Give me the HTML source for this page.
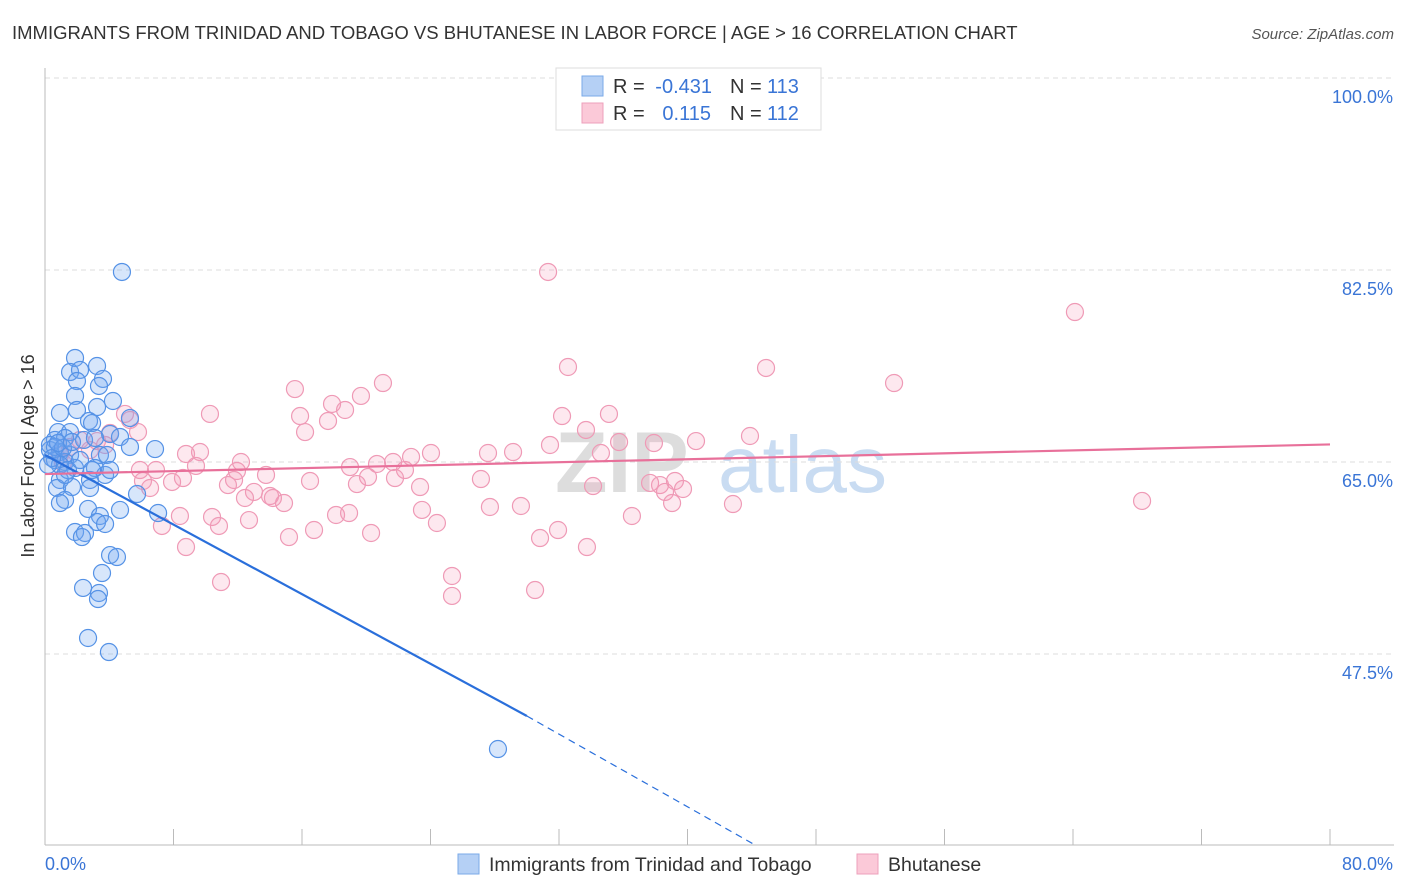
<!DOCTYPE html>
<html><head><meta charset="utf-8"><style>
body{margin:0;background:#fff;font-family:"Liberation Sans",sans-serif}
svg{display:block}
</style></head><body>
<svg id="chart" width="1406" height="892" xmlns="http://www.w3.org/2000/svg">
<text x="12" y="39" font-size="18.5" fill="#333">IMMIGRANTS FROM TRINIDAD AND TOBAGO VS BHUTANESE IN LABOR FORCE | AGE &gt; 16 CORRELATION CHART</text>
<text x="1394" y="39" font-size="15" fill="#555" font-style="italic" text-anchor="end">Source: ZipAtlas.com</text>
<text x="555" y="492" font-size="86" fill="#ddd" font-weight="bold">ZIP</text>
<text x="718" y="492" font-size="80" fill="#c9dcf2">atlas</text>
<g id="grid"></g><g id="axes"></g><g id="pink"></g><g id="blue"></g><g id="lines"></g>
<text transform="translate(34,456) rotate(-90)" font-size="18" fill="#333" text-anchor="middle">In Labor Force | Age &gt; 16</text>
<text x="45" y="870" font-size="18" fill="#3a75d6">0.0%</text>
<text x="1393" y="870" font-size="18" fill="#3a75d6" text-anchor="end">80.0%</text>
<g>
<rect x="556" y="68" width="265" height="62" fill="#fff" stroke="#ddd"/>
<rect x="582" y="76" width="21" height="20" fill="#b5d0f5" stroke="#7aaae8"/>
<rect x="582" y="103" width="21" height="20" fill="#fbc9d8" stroke="#eea0bb"/>
<text x="613" y="93" font-size="20" fill="#333">R =</text>
<text x="712" y="93" font-size="20" fill="#3a75d6" text-anchor="end">-0.431</text>
<text x="730" y="93" font-size="20" fill="#333">N =</text>
<text x="767" y="93" font-size="20" fill="#3a75d6">113</text>
<text x="613" y="120" font-size="20" fill="#333">R =</text>
<text x="711" y="120" font-size="20" fill="#3a75d6" text-anchor="end">0.115</text>
<text x="730" y="120" font-size="20" fill="#333">N =</text>
<text x="767" y="120" font-size="20" fill="#3a75d6">112</text>
</g>
<g>
<rect x="458" y="854" width="21" height="20" fill="#b5d0f5" stroke="#7aaae8"/>
<text x="489" y="871" font-size="19.5" fill="#333">Immigrants from Trinidad and Tobago</text>
<rect x="857" y="854" width="21" height="20" fill="#fbc9d8" stroke="#eea0bb"/>
<text x="888" y="871" font-size="19.5" fill="#333">Bhutanese</text>
</g>
</svg>
<script>
const yTicks=[100,82.5,65,47.5];
const xTicks=[0,8,16,24,32,40,48,56,64,72,80];
const bluePx=[[122,272],[75,358],[97,366],[70,372],[80,370],[77,381],[103,379],[99,386],[75,396],[113,401],[97,407],[60,413],[77,410],[130,418],[89,421],[92,423],[58,432],[70,432],[110,434],[55,440],[65,438],[84,440],[95,438],[120,437],[130,447],[155,449],[50,450],[60,452],[70,455],[100,455],[107,455],[55,460],[65,462],[75,468],[95,468],[105,475],[90,480],[60,480],[57,488],[72,487],[90,488],[137,494],[65,500],[60,503],[88,509],[120,510],[158,513],[100,516],[97,522],[105,524],[75,532],[85,533],[82,537],[110,555],[117,557],[102,573],[83,588],[99,593],[98,599],[88,638],[109,652],[498,749],[50,445],[55,447],[60,465],[68,470],[52,458],[48,465],[63,448],[58,443],[72,442],[80,460],[92,470],[110,470],[65,475]];
const pinkPx=[[548,272],[1075,312],[568,367],[766,368],[894,383],[383,383],[295,389],[361,396],[210,414],[125,414],[332,404],[345,410],[300,416],[328,421],[562,416],[609,414],[130,420],[586,430],[138,432],[305,432],[750,436],[696,441],[654,443],[619,442],[550,445],[97,441],[105,445],[200,452],[186,454],[431,453],[488,453],[513,452],[601,453],[411,457],[196,466],[241,462],[350,467],[377,464],[393,462],[237,471],[405,470],[140,470],[156,470],[266,475],[183,478],[234,480],[310,481],[368,477],[481,479],[395,478],[172,482],[143,481],[150,488],[593,486],[650,483],[660,485],[665,492],[675,481],[683,489],[228,485],[357,484],[420,487],[254,492],[270,496],[284,503],[245,498],[273,498],[490,507],[521,506],[422,510],[733,504],[672,503],[1142,501],[180,516],[212,517],[249,520],[336,515],[349,513],[437,523],[632,516],[162,526],[219,526],[314,530],[371,533],[558,530],[540,538],[289,537],[587,547],[186,547],[452,576],[221,582],[452,596],[535,590],[80,440],[60,455],[90,450],[70,447],[110,433],[63,463]];
const blueX=bluePx.map(p=>+((p[0]-45)*80/1285).toFixed(2));
const blueY=bluePx.map(p=>+(100-(p[1]-78)*17.5/192).toFixed(2));
const pinkX=pinkPx.map(p=>+((p[0]-45)*80/1285).toFixed(2));
const pinkY=pinkPx.map(p=>+(100-(p[1]-78)*17.5/192).toFixed(2));
const blueTrend=[[0,65.64],[30.0,41.85],[44.2,30.1]];
const pinkTrend=[[0,63.9],[80,66.6]];
const sx=v=>45+v*1285/80, sy=v=>78+(100-v)*192/17.5;
const NS='http://www.w3.org/2000/svg';
function mk(tag,attrs,parent){const e=document.createElementNS(NS,tag);for(const k in attrs)e.setAttribute(k,attrs[k]);document.getElementById(parent).appendChild(e);return e;}
yTicks.forEach(t=>{
 const l=mk('line',{x1:45,x2:1394,y1:sy(t),y2:sy(t),stroke:'#ddd','stroke-dasharray':'5,4'},'grid');
 
 
 const tx=mk('text',{x:1393,y:sy(t)+25,'font-size':18,fill:'#3a75d6','text-anchor':'end'},'grid');
 tx.textContent=t.toFixed(1)+'%';
 
 
});
const ya=mk('line',{x1:45,x2:45,y1:68,y2:845,stroke:'#bbb'},'axes');


const xa=mk('line',{x1:45,x2:1394,y1:845,y2:845,stroke:'#bbb'},'axes');


xTicks.forEach(t=>{
 const l=mk('line',{x1:sx(t),x2:sx(t),y1:829,y2:845,stroke:'#bbb'},'axes');
 
 
});
pinkX.forEach((x,i)=>{
 const c=mk('circle',{cx:sx(x),cy:sy(pinkY[i]),r:8.5,fill:'rgba(244,150,180,0.22)',stroke:'#ef9ab6','stroke-width':1.2},'pink');
 
 
});
blueX.forEach((x,i)=>{
 const c=mk('circle',{cx:sx(x),cy:sy(blueY[i]),r:8.5,fill:'rgba(110,165,240,0.28)',stroke:'#5592e6','stroke-width':1.2},'blue');
 
 
});
const b1=mk('line',{x1:sx(blueTrend[0][0]),y1:sy(blueTrend[0][1]),x2:sx(blueTrend[1][0]),y2:sy(blueTrend[1][1]),stroke:'#2a6fdb','stroke-width':2.2},'lines');


const b2=mk('line',{x1:sx(blueTrend[1][0]),y1:sy(blueTrend[1][1]),x2:sx(blueTrend[2][0]),y2:sy(blueTrend[2][1]),stroke:'#2a6fdb','stroke-width':1.2,'stroke-dasharray':'7,5'},'lines');


const p1=mk('line',{x1:sx(pinkTrend[0][0]),y1:sy(pinkTrend[0][1]),x2:sx(pinkTrend[1][0]),y2:sy(pinkTrend[1][1]),stroke:'#e8709a','stroke-width':2.2},'lines');


</script>
</body></html>
